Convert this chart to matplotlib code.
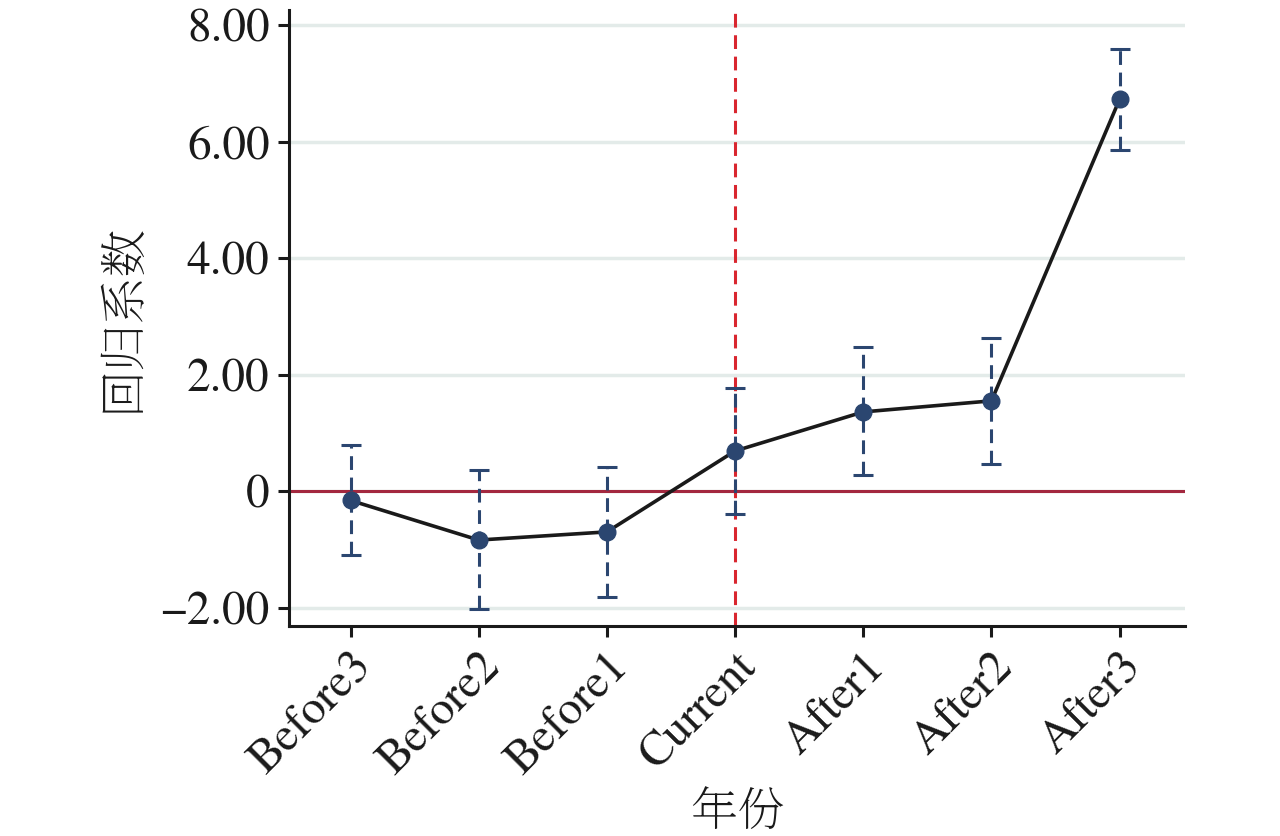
import matplotlib
matplotlib.use("Agg")
import matplotlib.pyplot as plt
from matplotlib.ticker import FuncFormatter

categories = ["Before3", "Before2", "Before1", "Current", "After1", "After2", "After3"]
coef = [-0.16, -0.84, -0.70, 0.69, 1.36, 1.55, 6.73]
ci_low = [-1.10, -2.03, -1.82, -0.39, 0.27, 0.46, 5.85]
ci_high = [0.79, 0.36, 0.41, 1.77, 2.47, 2.63, 7.59]
yticks = [-2, 0, 2, 4, 6, 8]
event_index = 3

plt.rcParams["font.family"] = "serif"
plt.rcParams["font.serif"] = ["TeX Gyre Termes", "STIX Two Text", "Liberation Serif", "DejaVu Serif"]
cjk = "Noto Serif SC"

fig = plt.figure(figsize=(12.8, 8.36), dpi=100)
ax = fig.add_axes([0.2258, 0.2516, 0.70, 0.7364])

x = list(range(len(categories)))
err_lo = [c - l for c, l in zip(coef, ci_low)]
err_hi = [h - c for c, h in zip(coef, ci_high)]

for yt in yticks:
    ax.axhline(yt, color="#e3ebe9", lw=2.5, zorder=0)
ax.axhline(0, color="#a3283f", lw=2.2, zorder=1)
ax.axvline(event_index, color="#d9262f", lw=2.2, ls=(0, (4.5, 2.5)), zorder=1)

eb = ax.errorbar(x, coef, yerr=[err_lo, err_hi], fmt="none", ecolor="#2b4670",
                 elinewidth=2.2, capsize=7, capthick=2.2, zorder=2)
for lc in eb[2]:
    lc.set_linestyle((0, (4.5, 2.5)))
ax.plot(x, coef, color="#1a1a1a", lw=2.6, zorder=3)
ax.plot(x, coef, "o", color="#2b4670", ms=12, zorder=4)

ax.set_xlim(-0.48, 6.51)
ax.set_ylim(-2.31, 8.26)
ax.set_xticks(x)
ax.set_xticklabels(categories, rotation=45, ha="right", rotation_mode="anchor", fontsize=34)
ax.set_yticks(yticks)
def fmt(v, pos):
    if abs(v) < 1e-9:
        return "0"
    return ("%.2f" % v).replace("-", "\u2212")
ax.yaxis.set_major_formatter(FuncFormatter(fmt))
ax.tick_params(axis="y", labelsize=34)

for s in ["top", "right"]:
    ax.spines[s].set_visible(False)
for s in ["left", "bottom"]:
    ax.spines[s].set_linewidth(2.2)
    ax.spines[s].set_color("#1a1a1a")
ax.tick_params(axis="both", direction="out", length=8, width=2.2, color="#1a1a1a",
               labelcolor="#1a1a1a", pad=6)

ax.set_ylabel("回归系数", family=cjk, fontsize=34, color="#1a1a1a", labelpad=9)
ax.set_xlabel("年份", family=cjk, fontsize=34, color="#1a1a1a", labelpad=3)

fig.savefig("out.png", dpi=100)
